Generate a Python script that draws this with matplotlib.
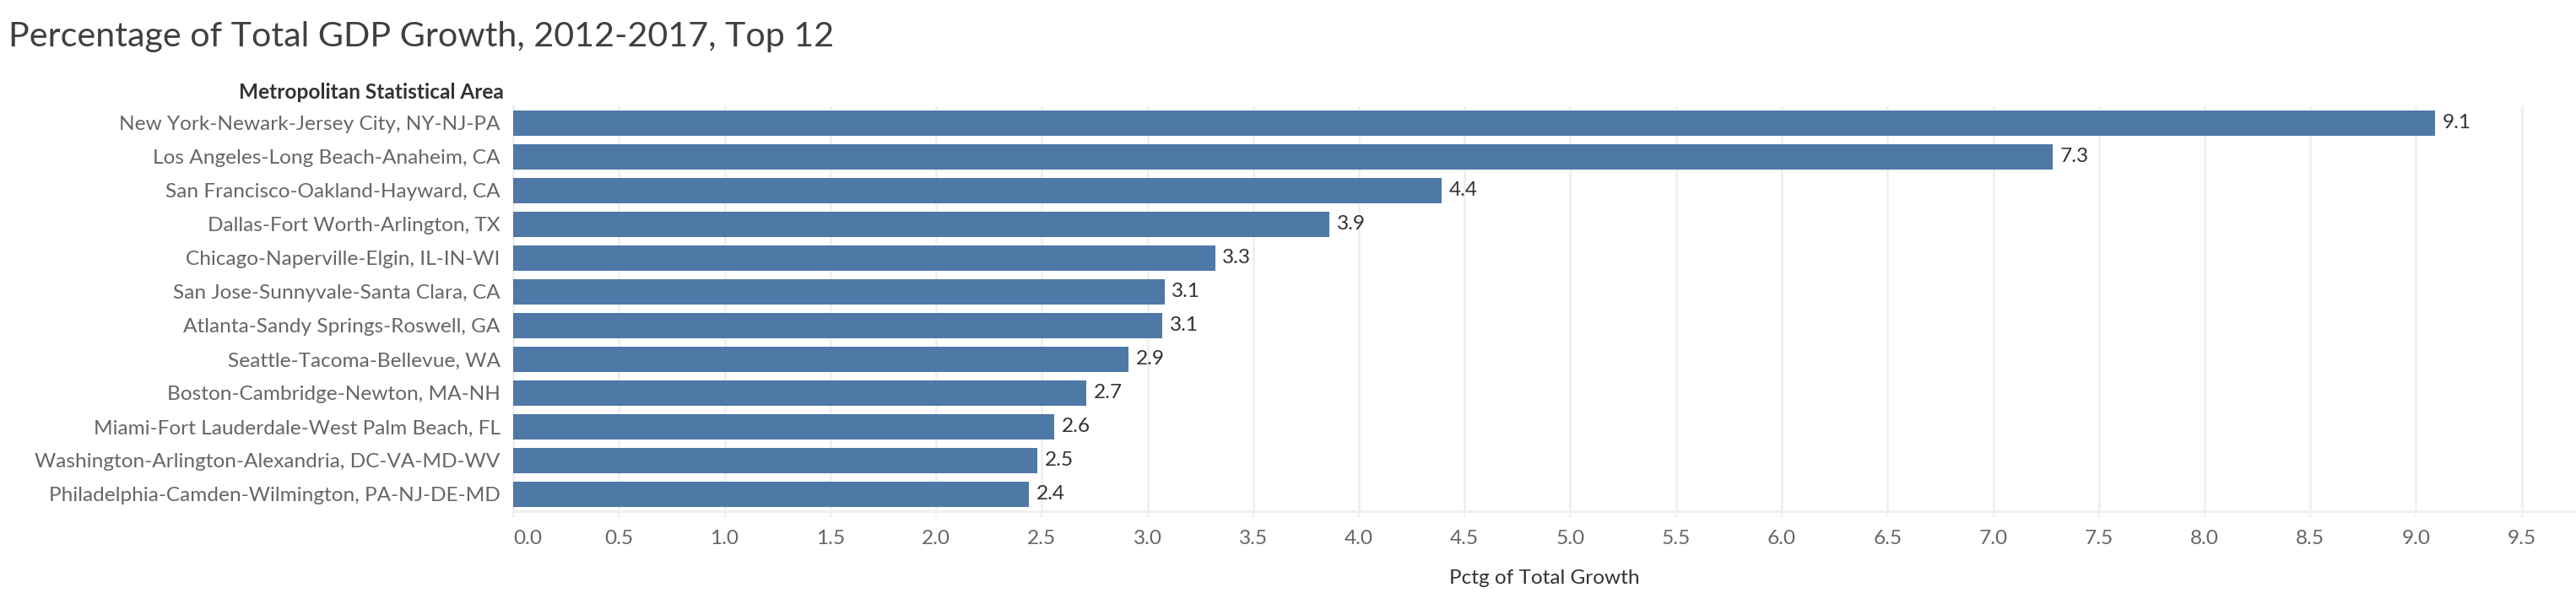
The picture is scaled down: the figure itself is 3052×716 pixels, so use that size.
import numpy as np
import matplotlib.pyplot as plt

plt.rcParams['font.family'] = ['Lato', 'DejaVu Sans']

areas = [
    'New York-Newark-Jersey City, NY-NJ-PA',
    'Los Angeles-Long Beach-Anaheim, CA',
    'San Francisco-Oakland-Hayward, CA',
    'Dallas-Fort Worth-Arlington, TX',
    'Chicago-Naperville-Elgin, IL-IN-WI',
    'San Jose-Sunnyvale-Santa Clara, CA',
    'Atlanta-Sandy Springs-Roswell, GA',
    'Seattle-Tacoma-Bellevue, WA',
    'Boston-Cambridge-Newton, MA-NH',
    'Miami-Fort Lauderdale-West Palm Beach, FL',
    'Washington-Arlington-Alexandria, DC-VA-MD-WV',
    'Philadelphia-Camden-Wilmington, PA-NJ-DE-MD',
]
pctg = [9.09, 7.28, 4.39, 3.86, 3.32, 3.08, 3.07, 2.91, 2.71, 2.56, 2.48, 2.44]
xticks = np.arange(0, 10, 0.5)

W, H = 3052, 716
fig = plt.figure(figsize=(W / 100, H / 100), dpi=100)
# plot area in pixels: x 608..3052, y 126..606
ax = fig.add_axes([608 / W, (H - 606) / H, (W - 608) / W, 480 / H])

bar_color = '#4e79a7'
grid_color = '#f0f0f0'
fs = 17.6
idx = np.arange(len(areas))
ax.barh(idx, pctg, height=0.75, color=bar_color, zorder=3)
for i, v in zip(idx, pctg):
    ax.text(v + 0.035, i, f'{v:.1f}', va='center', ha='left', fontsize=fs, color='#333333', zorder=4)

ax.set_ylim(len(areas) - 0.5, -0.5)
ax.set_xlim(0, (W - 608) / 250.5)
ax.set_yticks(idx)
ax.set_yticklabels(areas, fontsize=fs, color='#666666')
ax.set_xticks(xticks)
ax.set_xticklabels([f'{t:.1f}' for t in xticks], fontsize=fs, color='#666666')
# tableau keeps the first label inside the axis
first = ax.get_xticklabels()[0]
first.set_horizontalalignment('left')
first.set_x(0.01)
ax.tick_params(axis='y', length=0, pad=11)
ax.tick_params(axis='x', length=5, width=1.5, color=grid_color, pad=11)
ax.xaxis.grid(True, color=grid_color, linewidth=2, zorder=0)
for s in ['top', 'right']:
    ax.spines[s].set_visible(False)
for s in ['left', 'bottom']:
    ax.spines[s].set_color(grid_color)
    ax.spines[s].set_linewidth(2)
ax.set_xlabel('Pctg of Total Growth', fontsize=fs, color='#333333')
ax.xaxis.set_label_coords((1830 - 608) / (W - 608), (606 - 685) / 480)
ax.xaxis.label.set_va('center')

fig.text(10 / W, 1 - 55 / H, 'Percentage of Total GDP Growth, 2012-2017, Top 12',
         fontsize=29.7, color='#404040', ha='left', va='baseline')
fig.text(597 / W, 1 - 117 / H, 'Metropolitan Statistical Area',
         fontsize=fs, color='#333333', fontweight='bold', ha='right', va='baseline')

fig.savefig('out.png', dpi=100)
